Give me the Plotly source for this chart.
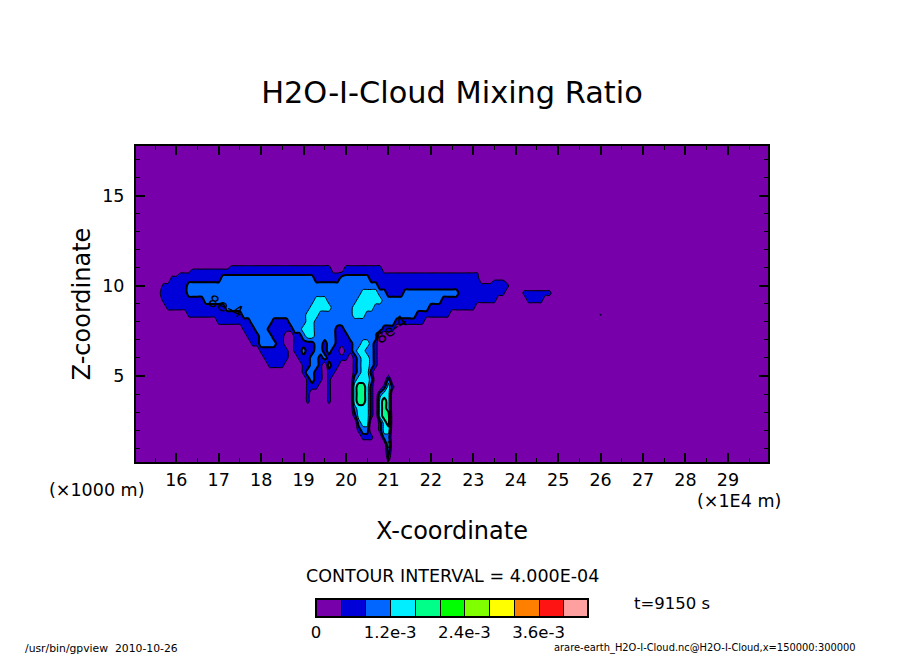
import numpy as np
import plotly.graph_objects as go

# field, one row per z level, top row first.
# each row is run length coded, "count*band" left to right, x step 0.1 from 15.6
x_start = 15.6
x_step = 0.1
n_cols = 110
z_levels = [11.6, 11.2, 10.8, 10.4, 10.0, 9.6, 9.2, 8.8, 8.4, 8.0, 7.6, 7.2, 6.8, 6.4, 6.0,
            5.6, 5.2, 4.8, 4.4, 4.0, 3.6, 3.2, 2.8, 2.4, 2.0, 1.6, 1.2, 0.8, 0.4, 0.0]
# mixing ratio of each band code, 1e-4 units
band_values = [0, 6, 10, 14, 18, 3.5, 4.5]
field_rows = [
    "",
    "17*0 24*5 3*0 9*5",
    "5*0 3*5 33*1 3*5 9*1 23*5",
    "3*0 12*1 22*2 6*1 7*2 26*1 3*0 3*5",
    "1*0 6*1 45*2 31*1",
    "1*5 6*1 41*2 4*3 2*2 4*1 13*2 11*1 4*0 7*1",
    "1*0 10*1 26*2 3*3 7*2 6*3 14*2 13*1 7*0 4*1",
    "2*0 14*1 20*2 5*3 5*2 5*3 13*2 11*1",
    "7*0 13*1 15*2 3*3 8*2 3*3 12*2 8*1 35*0 1*6",
    "14*0 8*1 5*2 4*1 4*2 2*3 19*2 7*1",
    "20*0 3*1 3*2 6*1 2*2 3*3 5*2 2*1 9*2 3*1",
    "21*0 3*1 3*2 3*1 2*0 2*1 1*2 2*3 5*2 3*1 7*2",
    "22*0 2*1 4*2 2*1 2*0 5*1 2*2 1*1 2*2 4*1 2*2 2*3 1*2 1*1",
    "24*0 7*1 1*0 2*1 1*2 2*1 2*2 1*1 1*2 2*1 1*0 2*1 1*2 2*3 2*2 1*1",
    "25*0 6*1 2*0 3*1 2*2 1*1 1*2 5*1 1*0 1*1 1*2 2*3 1*2 1*1",
    "26*0 4*1 4*0 2*1 2*2 1*1 1*0 1*2 2*1 3*0 1*1 1*2 2*3 1*2 1*1",
    "34*0 1*1 2*2 2*1 1*0 2*1 4*0 1*1 1*2 2*3 1*1",
    "35*0 1*1 1*2 2*1 1*0 1*1 5*0 1*2 3*3 1*2 3*0 1*2",
    "35*0 3*1 2*0 1*1 5*0 1*3 2*4 1*3 1*1 2*0 1*1 1*3 1*1",
    "35*0 1*1 4*0 1*1 5*0 1*3 2*4 1*3 1*1 1*0 1*2 2*3",
    "35*0 1*1 4*0 1*1 5*0 1*3 2*4 1*3 1*1 1*0 1*3 1*4 1*3",
    "46*0 1*2 3*3 1*1 1*0 1*3 1*4 1*3",
    "46*0 1*1 3*3 1*1 1*0 1*3 2*4",
    "47*0 1*2 2*3 2*0 1*1 1*3 1*4",
    "47*0 1*1 2*2 2*0 1*1 2*3",
    "48*0 3*1 2*0 2*2",
    "54*0 1*3",
    "54*0 1*2",
    "54*0 1*1",
    "",
]

band_colors = ['#7700aa', '#0000d8', '#0066ff', '#00eeff', '#00ff88', '#00ff00',
               '#80ff00', '#ffff00', '#ff8000', '#ff1414', '#ffa0a0']
colorbar_ticks = [0, 1.2e-3, 2.4e-3, 3.6e-3]
colorbar_labels = ['0', '1.2e-3', '2.4e-3', '3.6e-3']
x_ticks = list(range(16, 30))
z_ticks = [5, 10, 15]


def decode(row):
    vals = []
    for part in row.split():
        count, band = part.split('*')
        vals += [band_values[int(band)]] * int(count)
    return vals + [0] * (n_cols - len(vals))


x = [round(x_start + x_step * i, 2) for i in range(n_cols)]
z = np.array([decode(r) for r in field_rows]) * 1e-4
scale = [[i / 10, c] for i, c in enumerate(band_colors)]

FONT = 'DejaVu Sans'


# positions of the loose texts, in page pixels
def px(v):
    return (v - 136) / 632


def py(v):
    return (462 - v) / 316


def note(text, xp, yp, size, **kw):
    return dict(text=text, x=px(xp), y=py(yp), xref='paper', yref='paper', showarrow=False,
                xanchor='center', yanchor='middle',
                font=dict(family=FONT, size=size, color='black'), **kw)


fill = go.Contour(
    x=x, y=z_levels, z=z, zmin=0, zmax=4.4e-3, colorscale=scale, line_smoothing=0.7,
    contours=dict(start=4e-4, end=4e-3, size=4e-4, coloring='fill', showlines=True),
    line=dict(color='black', width=1),
    colorbar=dict(orientation='h', lenmode='pixels', len=272, thickness=18,
                  x=px(316), xanchor='left', y=py(638), yanchor='bottom', xpad=0, ypad=0,
                  outlinecolor='black', outlinewidth=2, ticks='', tickmode='array',
                  tickvals=colorbar_ticks, ticktext=colorbar_labels,
                  tickfont=dict(family=FONT, size=16.5, color='black')),
)
thick = go.Contour(
    x=x, y=z_levels, z=z, showscale=False, line_smoothing=0.7,
    contours=dict(start=8e-4, end=1.6e-3, size=8e-4, coloring='none'),
    line=dict(color='black', width=2),
)

fig = go.Figure([fill, thick])
fig.update_layout(
    width=904, height=654, autosize=False, paper_bgcolor='white', plot_bgcolor=band_colors[0],
    margin=dict(l=136, r=136, t=146, b=192), showlegend=False,
    title=dict(text='H2O-I-Cloud Mixing Ratio', x=0.5, xanchor='center', y=1 - 92 / 654,
               yanchor='middle', font=dict(family=FONT, size=30.4, color='black')),
    annotations=[
        note('(×1000 m)', 96, 490, 17.5),
        note('(×1E4 m)', 739, 501, 17.5),
        note('CONTOUR INTERVAL = 4.000E-04', 452, 576, 17.5),
        note('t=9150 s', 672, 603, 16.5),
        note('/usr/bin/gpview  2010-10-26', 101, 648, 10.8),
        note('arare-earth_H2O-I-Cloud.nc@H2O-I-Cloud,x=150000:300000', 705, 648, 9.9),
        note('8e-4', 226, 306, 16, textangle=22),
        note('8e-4', 391, 329, 16, textangle=-36),
    ],
)
fig.update_xaxes(
    range=[15.05, 29.945], tickmode='array', tickvals=x_ticks, ticks='inside', ticklen=9,
    tickwidth=2, tickcolor='black', showline=True, linecolor='black', linewidth=2, mirror='allticks',
    showgrid=False, zeroline=False, ticklabelstandoff=1,
    minor=dict(dtick=0.5, tick0=15.5, ticks='inside', ticklen=4, tickwidth=1, tickcolor='black', showgrid=False),
    tickfont=dict(family=FONT, size=17.5, color='black'),
    title=dict(text='X-coordinate', font=dict(family=FONT, size=24, color='black'), standoff=33),
)
fig.update_yaxes(
    range=[0.23, 17.76], tickmode='array', tickvals=z_ticks, ticks='inside', ticklen=9,
    tickwidth=2, tickcolor='black', showline=True, linecolor='black', linewidth=2, mirror='allticks',
    showgrid=False, zeroline=False, ticklabelstandoff=6,
    minor=dict(dtick=1, ticks='inside', ticklen=4, tickwidth=1, tickcolor='black', showgrid=False),
    tickfont=dict(family=FONT, size=17.5, color='black'),
    title=dict(text='Z-coordinate', font=dict(family=FONT, size=24, color='black'), standoff=5),
)
fig.write_html("out.html", config={'displayModeBar': False},
               post_script="document.body.style.margin='0';")
